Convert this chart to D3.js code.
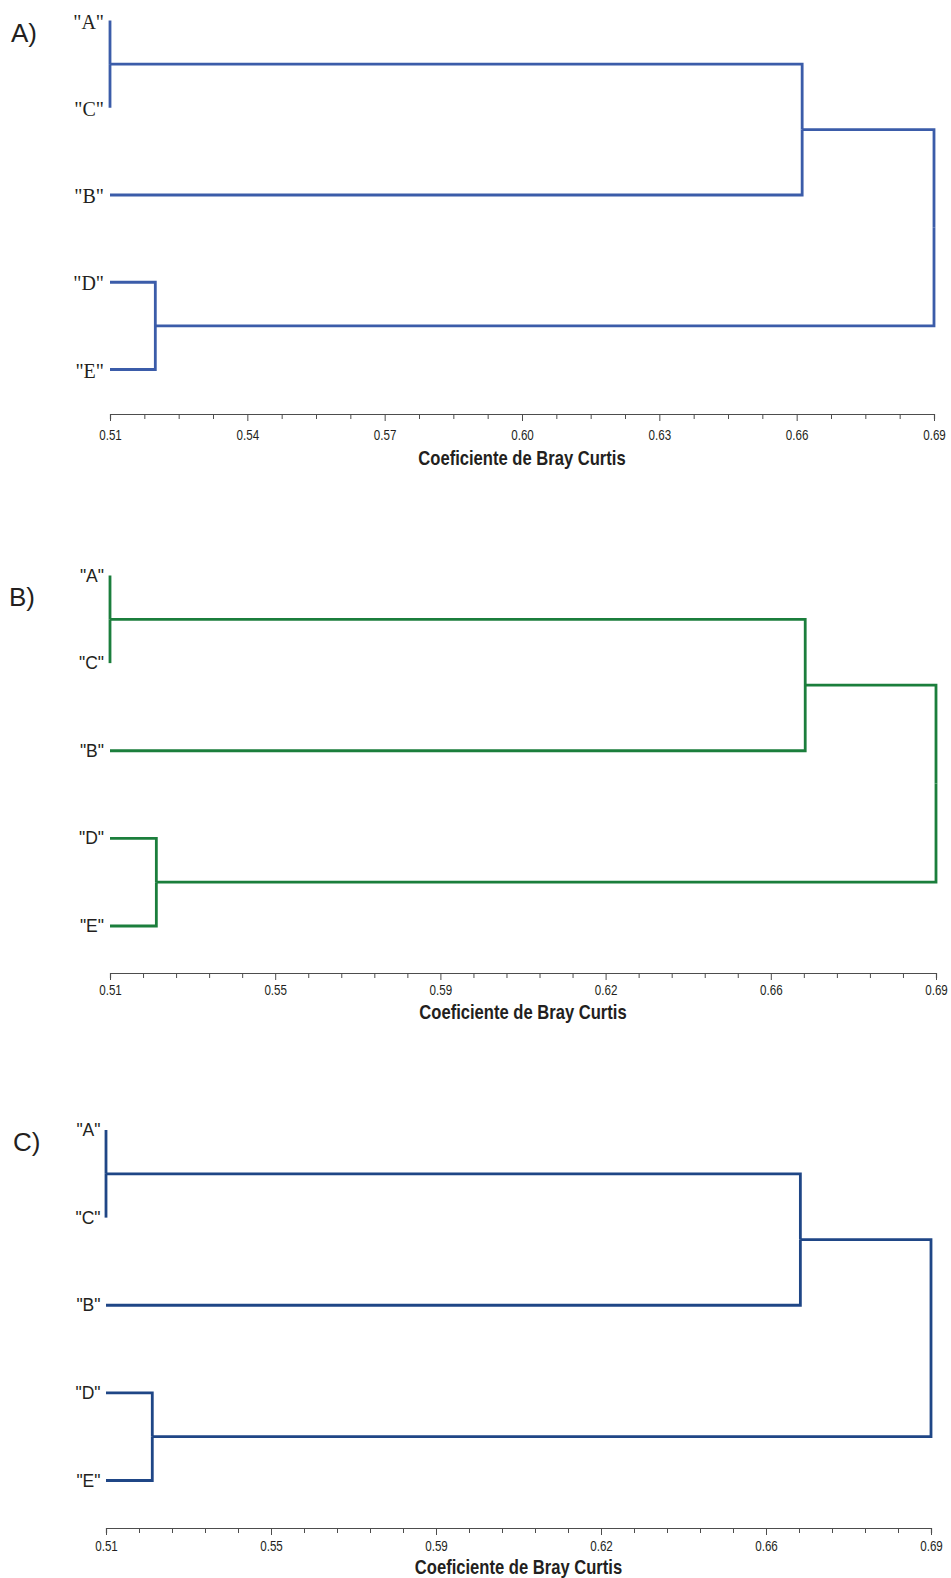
<!DOCTYPE html>
<html>
<head>
<meta charset="utf-8">
<script src="https://cdn.jsdelivr.net/npm/d3@7"></script>
<style>
  html, body { margin: 0; padding: 0; background: #fff; }
  svg { display: block; }
</style>
</head>
<body>
<svg id="chart" width="951" height="1578"></svg>
<script>
// Sites, in the order they appear down each dendrogram
const leaves = ["A", "C", "B", "D", "E"];

// Cluster joins: each pair of children and the id of the resulting node
const joins = [
  { id: "AC",    children: ["A", "C"] },
  { id: "ACB",   children: ["AC", "B"] },
  { id: "DE",    children: ["D", "E"] },
  { id: "ACBDE", children: ["ACB", "DE"] }
];

// Bray-Curtis level of each join (same order as joins), one list per dendrogram
const levelsA = [0.510, 0.6612, 0.5199, 0.690];
const levelsB = [0.510, 0.6615, 0.5201, 0.690];
const levelsC = [0.510, 0.6615, 0.5201, 0.690];

// Axis extent and tick labels
const axisDomain = [0.51, 0.69];
const tickLabelsA = ["0.51", "0.54", "0.57", "0.60", "0.63", "0.66", "0.69"];
const tickLabelsBC = ["0.51", "0.55", "0.59", "0.62", "0.66", "0.69"];
const axisTitle = "Coeficiente de Bray Curtis";

// Layout and style of each panel
const panels = [
  { tag: "A)", levels: levelsA, ticks: tickLabelsA, minorPerMajor: 4,
    color: "#3b5ca9", x0: 110, x1: 934, yTop: 20.5, yBottom: 369.5, axisY: 414,
    tagX: 11, tagY: 33, labelRight: 104, labelFont: "'Liberation Serif', 'Times New Roman', serif",
    labelSize: 20, labelDy: 1, tickLabelOff: 21, titleOff: 51 },
  { tag: "B)", levels: levelsB, ticks: tickLabelsBC, minorPerMajor: 5,
    color: "#1b7e3c", x0: 110, x1: 936, yTop: 575.5, yBottom: 926, axisY: 973,
    tagX: 9, tagY: 597, labelRight: 104, labelFont: "'Liberation Sans', Arial, sans-serif",
    labelSize: 17.5, labelDy: 0, tickLabelOff: 17.5, titleOff: 46 },
  { tag: "C)", levels: levelsC, ticks: tickLabelsBC, minorPerMajor: 5,
    color: "#1f4686", x0: 106, x1: 931, yTop: 1130, yBottom: 1480.5, axisY: 1528,
    tagX: 13, tagY: 1142, labelRight: 100.5, labelFont: "'Liberation Sans', Arial, sans-serif",
    labelSize: 17.5, labelDy: 0, tickLabelOff: 18, titleOff: 46 }
];

// Axis text is set in a horizontally condensed sans
const sans = "'Liberation Sans', Arial, sans-serif";
const condense = "scale(0.83,1)";
const svg = d3.select("#chart");

panels.forEach(p => {
  const g = svg.append("g");

  const x = d3.scaleLinear().domain(axisDomain).range([p.x0, p.x1]);
  const y = d3.scalePoint().domain(leaves).range([p.yTop, p.yBottom]);

  // Node positions: leaves at the left end of the axis, joins at their level
  const pos = {};
  leaves.forEach(l => { pos[l] = { x: x(axisDomain[0]), y: y(l) }; });
  joins.forEach((j, i) => {
    const ys = j.children.map(c => pos[c].y);
    pos[j.id] = { x: x(p.levels[i]), y: d3.mean(ys) };
  });

  // Elbow connectors: child -> horizontal to join level -> vertical to join midpoint
  const links = joins.flatMap(j => j.children.map(c => ({ from: pos[c], to: pos[j.id] })));
  g.append("g")
    .selectAll("path")
    .data(links)
    .join("path")
    .attr("d", d => `M${d.from.x},${d.from.y}H${d.to.x}V${d.to.y}`)
    .attr("fill", "none")
    .attr("stroke", p.color)
    .attr("stroke-width", 2.8)
    .attr("stroke-linejoin", "miter");

  // Leaf labels
  g.append("g")
    .selectAll("text")
    .data(leaves)
    .join("text")
    .attr("x", p.labelRight)
    .attr("y", d => y(d) + p.labelDy)
    .attr("text-anchor", "end")
    .attr("dominant-baseline", "central")
    .attr("font-family", p.labelFont)
    .attr("font-size", p.labelSize)
    .attr("fill", "#231f20")
    .text(d => `"${d}"`);

  // Panel tag
  g.append("text")
    .attr("x", p.tagX)
    .attr("y", p.tagY)
    .attr("dominant-baseline", "central")
    .attr("font-family", sans)
    .attr("font-size", 26)
    .attr("fill", "#231f20")
    .text(p.tag);

  // Axis with evenly spaced minor ticks; every few ticks carries a label
  const nIntervals = (p.ticks.length - 1) * p.minorPerMajor;
  const step = (axisDomain[1] - axisDomain[0]) / nIntervals;
  const tickVals = d3.range(nIntervals + 1).map(i => axisDomain[0] + i * step);
  const axis = d3.axisBottom(x)
    .tickValues(tickVals)
    .tickSizeOuter(0)
    .tickSize(5)
    .tickFormat((d, i) => i % p.minorPerMajor === 0 ? p.ticks[i / p.minorPerMajor] : "");

  const ax = g.append("g")
    .attr("transform", `translate(0,${p.axisY})`)
    .call(axis);
  ax.select(".domain").attr("stroke", "#4d4d4d").attr("stroke-width", 1.2);
  ax.selectAll(".tick line")
    .attr("stroke", "#4d4d4d")
    .attr("y2", (d, i) => i % p.minorPerMajor === 0 ? 7 : 5);
  ax.selectAll(".tick text")
    .attr("y", p.tickLabelOff)
    .attr("dy", null)
    .attr("transform", condense)
    .attr("dominant-baseline", "central")
    .attr("font-family", sans)
    .attr("font-size", 14)
    .attr("fill", "#231f20");

  // Axis title
  g.append("g")
    .attr("transform", `translate(${(p.x0 + p.x1) / 2},${p.axisY + p.titleOff})`)
    .append("text")
    .attr("transform", condense)
    .attr("text-anchor", "middle")
    .attr("font-family", sans)
    .attr("font-weight", "bold")
    .attr("font-size", 20)
    .attr("fill", "#231f20")
    .text(axisTitle);
});
</script>
</body>
</html>
